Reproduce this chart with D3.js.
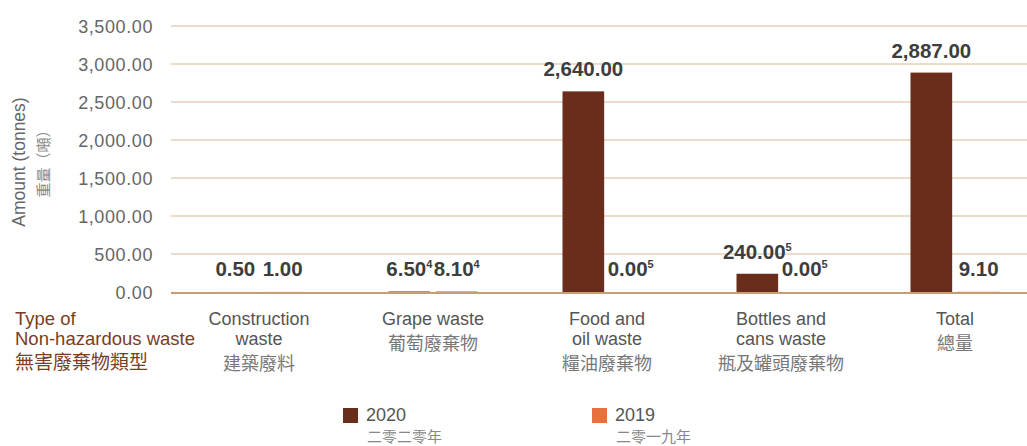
<!DOCTYPE html>
<html><head><meta charset="utf-8">
<script src="https://cdn.jsdelivr.net/npm/d3@7"></script>
<style>
body{margin:0;background:#fff;}
text{font-family:"Liberation Sans",Arial,sans-serif;}
</style></head>
<body><svg id="c" width="1027" height="446"></svg>
<script>
const categories = [
  ["Construction","waste","建築廢料"],
  ["Grape waste","葡萄廢棄物"],
  ["Food and","oil waste","糧油廢棄物"],
  ["Bottles and","cans waste","瓶及罐頭廢棄物"],
  ["Total","總量"]
];
const series = ["2020","2019"];
const seriesCN = ["二零二零年","二零一九年"];
const values2020 = [0.50, 6.50, 2640.00, 240.00, 2887.00];
const values2019 = [1.00, 8.10, 0.00, 0.00, 9.10];
const labels2020 = ["0.50","6.50","2,640.00","240.00","2,887.00"];
const labels2019 = ["1.00","8.10","0.00","0.00","9.10"];
const notes2020 = ["","4","","5",""];
const notes2019 = ["","4","5","5",""];
const yTicks = [0,500,1000,1500,2000,2500,3000,3500];
const colors = ["#6b2d1b","#e8703f"];

const svg = d3.select("#c");
const y = d3.scaleLinear().domain([0,3500]).range([292,26]);
const x = d3.scaleBand().domain(d3.range(categories.length)).range([172,1042]);
const xs = d3.scaleBand().domain([0,1]).range([0,89]).paddingInner(0.12);
const gx0 = i => x(i) + x.bandwidth()/2 - 44.5;
const CJK = "'Noto Sans CJK TC',sans-serif";

// gridlines
svg.append("g").selectAll("line").data(yTicks.filter(d=>d>0)).join("line")
  .attr("x1",171).attr("x2",1027).attr("y1",d=>y(d)).attr("y2",d=>y(d))
  .attr("stroke","#eedcc9").attr("stroke-width",2);

// y axis labels
const yAxis = d3.axisLeft(y).tickValues(yTicks).tickSize(0).tickPadding(0)
  .tickFormat(d=>d3.format(",.2f")(d));
const ga = svg.append("g").attr("transform","translate(153,0)").call(yAxis);
ga.select(".domain").remove();
ga.selectAll("text").attr("font-size",18).attr("letter-spacing","0.6px")
  .attr("fill","#666").attr("dy","0.35em");

// bars
const data = [];
categories.forEach((c,i)=>{
  data.push({i,s:0,v:values2020[i],l:labels2020[i],n:notes2020[i]});
  data.push({i,s:1,v:values2019[i],l:labels2019[i],n:notes2019[i]});
});
svg.append("g").selectAll("rect").data(data).join("rect")
  .attr("x",d=>gx0(d.i)+xs(d.s)).attr("width",xs.bandwidth())
  .attr("y",d=>y(d.v)).attr("height",d=>y(0)-y(d.v))
  .attr("fill",d=>colors[d.s]).attr("fill-opacity",d=>(d.s===1&&d.i===4)?0.35:1);

// baseline
svg.append("line").attr("x1",171).attr("x2",1027).attr("y1",y(0)+1).attr("y2",y(0)+1)
  .attr("stroke","#c79d72").attr("stroke-width",2);

// value labels
const vl = svg.append("g").selectAll("text").data(data).join("text")
  .attr("x",d=>gx0(d.i)+xs(d.s)+xs.bandwidth()/2)
  .attr("y",d=>Math.min(y(d.v),y(0)-1)-15)
  .attr("text-anchor","middle").attr("font-size",20.5).attr("font-weight","bold")
  .attr("fill","#3d3d3d");
vl.append("tspan").text(d=>d.l);
vl.filter(d=>d.n).append("tspan").text(d=>d.n).attr("font-size",11).attr("dy",-8);

// category labels
const cl = svg.append("g").selectAll("text").data(categories).join("text")
  .attr("x",(d,i)=>x(i)+x.bandwidth()/2).attr("text-anchor","middle")
  .attr("font-size",18).attr("fill","#555");
const rowY = [325,345,369.5];
cl.each(function(d){
  const t=d3.select(this);
  d.forEach((line,k)=>{
    const cjk=/[\u4e00-\u9fff]/.test(line);
    const yy = cjk ? (k===1 ? 350 : 369.5) : rowY[k];
    t.append("tspan").attr("x",t.attr("x")).attr("y",yy).text(line)
      .attr("fill",cjk?"#777":"#555").attr("font-size",18)
      .style("font-family",cjk?CJK:null);
  });
});

// left type label
const tl = svg.append("text").attr("font-size",18.5).attr("fill","#7a3d1f");
tl.append("tspan").attr("x",15).attr("y",325).text("Type of");
tl.append("tspan").attr("x",15).attr("y",345).text("Non-hazardous waste");
tl.append("tspan").attr("x",15).attr("y",369).attr("font-size",19).text("無害廢棄物類型")
  .style("font-family",CJK);

// y titles
svg.append("text").attr("transform","translate(25,162) rotate(-90)")
  .attr("text-anchor","middle").attr("font-size",17.5).attr("fill","#666").text("Amount (tonnes)");
svg.append("text").attr("transform","translate(49,160) rotate(-90)")
  .attr("text-anchor","middle").attr("font-size",15).attr("fill","#888")
  .style("font-family",CJK).text("重量（噸）");

// legend
const lx = [343,592];
const lg = svg.append("g").selectAll("g").data(series).join("g")
  .attr("transform",(d,i)=>`translate(${lx[i]},0)`);
lg.append("rect").attr("x",0).attr("y",408).attr("width",15).attr("height",15)
  .attr("fill",(d,i)=>colors[i]);
lg.append("text").attr("x",23).attr("y",421).attr("font-size",18).attr("fill","#555").text(d=>d);
lg.append("text").attr("x",24).attr("y",442).attr("font-size",15).attr("fill","#888")
  .style("font-family",CJK).text((d,i)=>seriesCN[i]);
</script></body></html>
